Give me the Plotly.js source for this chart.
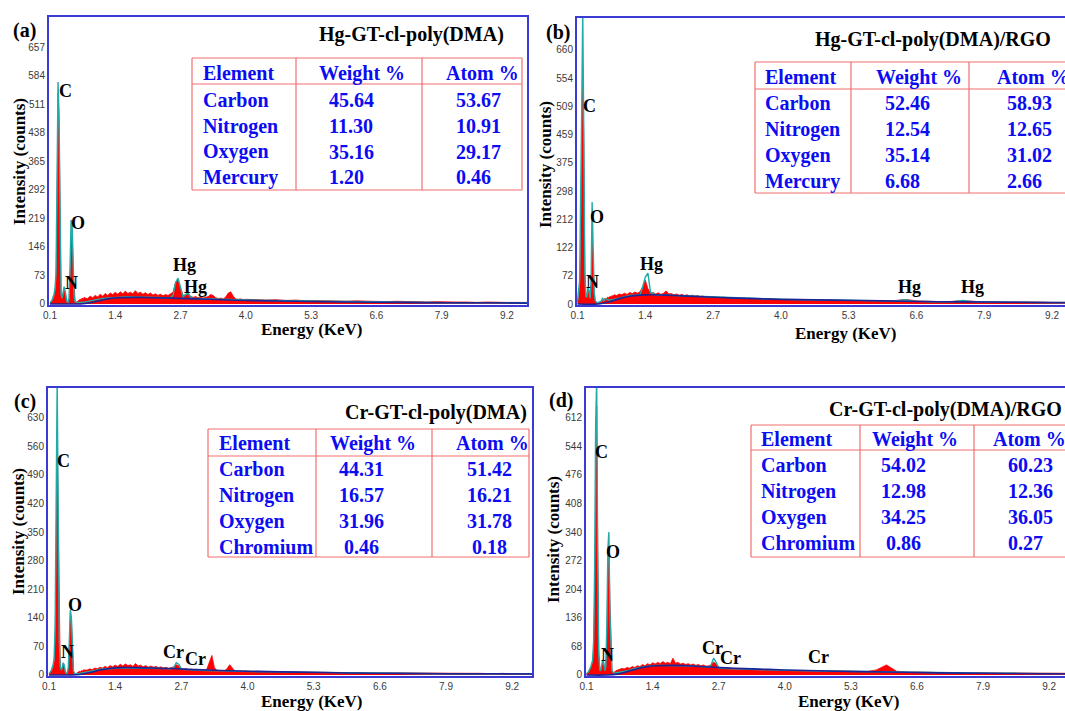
<!DOCTYPE html>
<html><head><meta charset="utf-8">
<script src="https://cdn.plot.ly/plotly-3.0.1.min.js"></script>
<style>html,body{margin:0;padding:0;overflow:hidden;background:#fff;width:1065px;height:711px}#chart{width:1100px;height:711px}</style>
</head><body><div id="chart"></div>
<script>
// ---------------- DATA ----------------
const energy = [
0.10,0.12,0.14,0.16,0.18,0.20,0.22,0.24,0.26,0.28,
0.30,0.32,0.34,0.36,0.38,0.40,0.42,0.44,0.46,0.48,
0.50,0.52,0.54,0.56,0.58,0.60,0.62,0.64,0.66,0.68,
0.70,0.72,0.74,0.76,0.78,0.80,
0.85,0.90,0.95,1.00,1.05,1.10,1.15,1.20,1.25,1.30,
1.35,1.40,1.45,1.50,1.55,1.60,1.65,1.70,1.75,1.80,
1.85,1.90,1.95,2.00,2.05,2.10,2.15,2.20,2.25,2.30,
2.35,2.40,2.45,2.50,2.55,2.60,2.65,2.70,2.75,2.80,
2.85,2.90,2.95,3.00,3.05,3.10,3.15,3.20,3.25,3.30,
3.35,3.40,3.45,3.50,3.55,3.60,3.65,3.70,3.75,3.80,
3.85,3.90,3.95,4.00,
4.2,4.4,4.6,4.8,5.0,5.2,5.4,5.6,5.8,6.0,
6.2,6.4,6.6,6.8,7.0,7.2,7.4,7.6,7.8,8.0,
8.2,8.4,8.6,8.8,9.0,9.2,9.4,9.6,9.8];

const aCounts = [
2,4,8,12,18,30,60,220,540,470,
150,30,12,20,35,28,10,4,3,8,
60,160,190,90,25,8,4,6,8,10,
12,11,15,13,17,15,
14,20,16,22,18,25,20,27,22,28,
24,30,25,31,26,33,27,30,26,34,
27,30,25,29,24,28,23,26,22,25,
21,24,22,26,30,55,62,40,22,24,
26,20,17,19,16,18,15,17,19,24,
22,16,14,15,13,18,28,31,20,13,
12,13,11,12,
11,10,11,9,10,8,9,8,8,7,
8,7,7,6,7,6,6,5,6,5,
5,5,4,5,4,4,4,4,4];

const bCounts = [
5,15,40,120,380,613,420,90,20,15,
35,30,12,30,166,120,30,8,4,3,
3,4,5,7,10,12,14,12,15,18,
16,20,18,22,20,24,
22,26,24,28,25,30,27,31,28,32,
45,62,40,28,30,26,29,25,28,34,
26,27,24,26,23,25,22,24,21,23,
20,22,19,21,18,20,17,19,17,18,
16,18,16,17,15,16,15,16,14,15,
14,15,13,14,13,14,12,13,12,13,
12,12,11,12,
11,11,10,10,9,9,9,8,8,8,
9,12,8,7,7,6,8,8,6,6,
5,5,5,5,5,4,4,4,4];

const cCounts = [
2,4,8,12,18,30,80,250,600,380,
100,25,10,15,28,22,8,4,4,12,
70,152,130,40,10,4,3,4,6,8,
9,8,11,10,13,12,
12,15,13,17,15,19,17,21,18,23,
20,24,21,26,22,27,23,25,21,28,
22,24,20,23,19,22,19,21,18,20,
17,19,16,18,20,25,22,15,14,15,
13,14,12,13,12,13,11,14,30,48,
18,11,10,11,10,16,25,18,10,9,
10,9,10,9,
9,8,8,7,7,7,6,6,6,5,
6,5,5,5,5,4,5,4,4,4,
4,4,4,3,4,3,3,3,3];

const dCounts = [
3,5,8,12,16,22,30,60,180,500,
640,300,60,15,10,18,30,25,10,15,
80,240,300,180,50,12,5,6,8,10,
12,11,14,13,16,15,
15,18,16,20,18,22,20,25,22,27,
24,29,26,30,27,32,28,30,27,40,
28,30,26,28,25,27,24,26,23,25,
22,24,21,22,24,31,26,18,17,18,
16,17,15,16,15,16,14,15,14,15,
13,14,13,13,12,13,12,12,11,12,
11,11,10,11,
10,10,9,9,10,9,8,8,12,24,
9,7,7,6,6,6,5,5,5,5,
5,4,4,4,4,4,4,4,4];

const fitEnergy = [
0.10,0.14,0.18,0.20,0.22,0.24,0.26,0.28,0.30,0.32,
0.34,0.36,0.38,0.40,0.42,0.44,0.46,0.48,0.50,0.52,
0.54,0.56,0.58,0.60,0.64,0.70,0.80,0.90,1.0,1.1,
1.2,1.3,1.35,1.40,1.45,1.50,1.6,1.7,1.8,2.0,
2.2,2.4,2.5,2.55,2.60,2.65,2.70,2.75,2.80,2.85,
2.90,2.95,3.0,3.2,3.4,3.6,3.8,4.0,4.5,5.0,
5.5,6.0,6.2,6.3,6.4,6.5,6.6,7.0,7.3,7.4,
7.5,7.6,7.7,8.0,8.5,9.0,9.8];

const aFit = [
3,10,25,40,80,260,568,480,140,25,
15,30,44,35,12,5,4,15,100,215,
205,80,20,6,4,4,5,8,11,13,
15,16,17,17,17,17,18,18,18,17,
17,16,16,22,55,66,40,18,24,28,
18,14,14,13,12,11,10,10,9,8,
7,6,6,6,6,5,5,4,4,4,
4,4,3,3,3,3,3];

const bFit = [
8,60,500,760,450,80,20,18,44,35,
15,60,265,150,30,8,4,3,4,6,
6,8,16,8,14,10,12,16,20,22,
23,24,45,70,80,30,24,24,23,22,
21,20,19,19,18,18,18,17,17,17,
16,16,16,15,14,13,12,12,11,10,
9,8,8,10,11,8,7,6,6,8,
9,7,6,5,4,4,3];

const cFit = [
3,10,25,40,120,400,720,420,90,20,
12,18,30,24,8,4,5,20,100,160,
140,40,10,4,3,4,6,8,11,14,
15,16,17,17,17,17,17,17,17,17,
16,16,15,18,30,26,15,13,13,13,
12,12,12,11,11,10,9,9,8,7,
6,5,5,5,5,4,4,4,3,3,
3,3,3,3,3,3,3];

const dFit = [
3,8,18,25,35,80,250,600,700,300,
50,12,10,25,36,30,10,20,120,300,
340,150,40,10,4,5,7,10,14,17,
19,21,22,22,23,23,23,23,23,22,
21,20,19,24,40,30,17,16,16,15,
15,15,15,14,13,12,12,11,10,9,
8,7,7,7,6,6,6,5,5,5,
4,4,4,4,4,3,3];

const bgEnergy = [0.1,0.5,0.7,0.9,1.1,1.3,1.5,1.8,2.1,2.5,3.0,3.5,4.0,5.0,6.0,7.0,8.0,9.0,9.8];
const aBg = [0,0,0,3,9,14,16,17,16,15,13,11,9,7,5,4,3,3,2];
const bBg = [0,0,5,14,20,23,24,23,21,19,16,14,12,10,8,6,5,4,4];
const cBg = [0,0,1,6,12,16,18,18,17,16,13,11,9,7,5,4,3,3,2];
const dBg = [0,0,2,8,15,20,22,23,22,19,16,14,12,9,7,5,4,3,3];

const xTicks = [0.1,1.4,2.7,4.0,5.3,6.6,7.9,9.2];
const xTickText = ['0.1','1.4','2.7','4.0','5.3','6.6','7.9','9.2'];
const aYTicks = [0,73,146,219,292,365,438,511,584,657];
const bYTickText = ['0','72','122','212','298','375','459','509','554','660'];
const cYTicks = [0,70,140,210,280,350,420,490,560,630];
const dYTicks = [0,68,136,204,272,340,408,476,544,612];

const hgElements = ['Carbon','Nitrogen','Oxygen','Mercury'];
const crElements = ['Carbon','Nitrogen','Oxygen','Chromium'];
const aWeight = [45.64,11.30,35.16,1.20];
const aAtom   = [53.67,10.91,29.17,0.46];
const bWeight = [52.46,12.54,35.14,6.68];
const bAtom   = [58.93,12.65,31.02,2.66];
const cWeight = [44.31,16.57,31.96,0.46];
const cAtom   = [51.42,16.21,31.78,0.18];
const dWeight = [54.02,12.98,34.25,0.86];
const dAtom   = [60.23,12.36,36.05,0.27];

const panelTitles = ['Hg-GT-cl-poly(DMA)','Hg-GT-cl-poly(DMA)/RGO','Cr-GT-cl-poly(DMA)','Cr-GT-cl-poly(DMA)/RGO'];
const panelLetters = ['(a)','(b)','(c)','(d)'];
const aPeaks = [['C',0.41,545],['O',0.66,207],['N',0.52,54],['Hg',2.77,100],['Hg',3.0,43]];
const bPeaks = [['C',0.33,514],['O',0.48,226],['N',0.39,57],['Hg',1.51,104],['Hg',6.46,44],['Hg',7.67,44]];
const cPeaks = [['C',0.375,524],['O',0.61,172],['N',0.47,56],['Cr',2.54,56],['Cr',2.97,39]];
const dPeaks = [['C',0.40,531],['O',0.63,293],['N',0.51,48],['Cr',2.57,64],['Cr',2.94,40],['Cr',4.66,43]];

// ---------------- LAYOUT / DRAW ----------------
const W = 1100, H = 711;
const px = v => v / W, py = v => 1 - v / H;
const SERIF = 'Liberation Serif, Times New Roman, serif';
const FRAME = '#3b3bd4', RED = '#ff0000', TEAL = '#22aaa8', NAVY = '#1b2596', TABLE = '#f26e6e', TXTBLUE = '#0c0cf2';

const bYTickVals = bYTickText.map((t, i) => i * 660 / 9);

const panels = [
  {red:aCounts, fit:aFit, bg:aBg, peaks:aPeaks, box:[49,527,17,305], xr:[0.08,9.6], yr:[-2.6,734],
   tv:aYTicks, tt:aYTicks.map(String), letter:[24,31], title:[411,35], ytitle:[19,162], xtitle:[312,329],
   els:hgElements, w:aWeight, at:aAtom,
   tab:{l:192,r:522,t:58,b:190,h:84,c1:296,c2:422, xe:201, xwh:317, xw:327, xwa:'left', xah:444, xa:454, xaa:'left', rows:[73,100,126,152,177]}},
  {red:bCounts, fit:bFit, bg:bBg, peaks:bPeaks, box:[577,1100,18,305], xr:[0.09,10.12], yr:[-2.6,743],
   tv:bYTickVals, tt:bYTickText, letter:[558,32], title:[933,39], ytitle:[545,165], xtitle:[846,333],
   els:hgElements, w:bWeight, at:bAtom,
   tab:{l:755,r:1100,t:62,b:193,h:89,c1:851,c2:969, xe:763, xwh:874, xw:883, xwa:'left', xah:995, xa:1005, xaa:'left', rows:[77,103,129,155,181]}},
  {red:cCounts, fit:cFit, bg:cBg, peaks:cPeaks, box:[48,532,388,676], xr:[0.08,9.59], yr:[-2.5,703],
   tv:cYTicks, tt:cYTicks.map(String), letter:[25,401], title:[436,412], ytitle:[18,532], xtitle:[312,701],
   els:crElements, w:cWeight, at:cAtom,
   tab:{l:208,r:529,t:429,b:557,h:456,c1:316,c2:432, xe:217, xwh:328, xw:361, xwa:'center', xah:454, xa:489, xaa:'center', rows:[443,469,495,521,547]}},
  {red:dCounts, fit:dFit, bg:dBg, peaks:dPeaks, box:[586,1100,388,676], xr:[0.09,10.2], yr:[-2.4,683],
   tv:dYTicks, tt:dYTicks.map(String), letter:[561,400], title:[945,409], ytitle:[553,540], xtitle:[849,701],
   els:crElements, w:dWeight, at:dAtom,
   tab:{l:751,r:1100,t:425,b:557,h:450,c1:860,c2:974, xe:759, xwh:870, xw:903, xwa:'center', xah:991, xa:1006, xaa:'left', rows:[439,465,491,517,543]}}
];

const traces = [], annotations = [], shapes = [];
const layout = {
  width: W, height: H, margin:{l:0,r:0,t:0,b:0}, showlegend:false,
  paper_bgcolor:'#fff', plot_bgcolor:'#fff'
};

panels.forEach((p, i) => {
  const n = i === 0 ? '' : String(i + 1);
  const xa = 'x' + n, ya = 'y' + n;
  const [l, r, t, b] = p.box;
  layout['xaxis' + n] = {
    domain:[px(l), px(r)], range:p.xr, anchor:ya, showline:true, mirror:true,
    linecolor:FRAME, linewidth:2, showgrid:false, zeroline:false, ticks:'',
    tickmode:'array', tickvals:xTicks, ticktext:xTickText,
    tickfont:{family:'Liberation Sans, Arial, sans-serif', size:10, color:'#3a3a3a'}
  };
  layout['yaxis' + n] = {
    domain:[py(b), py(t)], range:p.yr, anchor:xa, showline:true, mirror:true,
    linecolor:FRAME, linewidth:2, showgrid:false, zeroline:false, ticks:'',
    tickmode:'array', tickvals:p.tv, ticktext:p.tt,
    tickfont:{family:'Liberation Sans, Arial, sans-serif', size:10, color:'#3a3a3a'}
  };
  traces.push({x:energy, y:p.red, xaxis:xa, yaxis:ya, type:'scatter', mode:'lines',
    fill:'tozeroy', fillcolor:RED, line:{color:RED, width:0.8}, hoverinfo:'skip'});
  traces.push({x:fitEnergy, y:p.fit, xaxis:xa, yaxis:ya, type:'scatter', mode:'lines',
    line:{color:TEAL, width:1.4}, hoverinfo:'skip'});
  traces.push({x:bgEnergy, y:p.bg, xaxis:xa, yaxis:ya, type:'scatter', mode:'lines',
    line:{color:NAVY, width:1.6, shape:'spline'}, hoverinfo:'skip'});

  // peak labels
  p.peaks.forEach(pk => annotations.push({xref:xa, yref:ya, x:pk[1], y:pk[2], text:'<b>'+pk[0]+'</b>',
    showarrow:false, xanchor:'center', yanchor:'middle', font:{family:SERIF, size:18, color:'#000'}}));

  const pap = (x, y, txt, size, anchor, extra) => annotations.push(Object.assign({
    xref:'paper', yref:'paper', x:px(x), y:py(y), text:txt, showarrow:false,
    xanchor:anchor || 'center', yanchor:'middle', font:{family:SERIF, size:size, color:'#000'}}, extra || {}));

  pap(p.letter[0], p.letter[1], '<b>'+panelLetters[i]+'</b>', 20);
  pap(p.title[0], p.title[1], '<b>'+panelTitles[i]+'</b>', 20);
  pap(p.ytitle[0], p.ytitle[1], '<b>Intensity (counts)</b>', 17, 'center', {textangle:-90});
  pap(p.xtitle[0], p.xtitle[1], '<b>Energy (KeV)</b>', 17);

  // table
  const tb = p.tab;
  const ln = (x0, y0, x1, y1) => shapes.push({type:'line', xref:'paper', yref:'paper',
    x0:px(x0), y0:py(y0), x1:px(x1), y1:py(y1), line:{color:TABLE, width:1.2}});
  ln(tb.l, tb.t, tb.r, tb.t); ln(tb.l, tb.b, tb.r, tb.b); ln(tb.l, tb.h, tb.r, tb.h);
  ln(tb.l, tb.t, tb.l, tb.b); ln(tb.r, tb.t, tb.r, tb.b);
  ln(tb.c1, tb.t, tb.c1, tb.b); ln(tb.c2, tb.t, tb.c2, tb.b);
  const tf = {family:SERIF, size:20, color:TXTBLUE};
  const tx = (x, y, txt, anchor) => annotations.push({xref:'paper', yref:'paper', x:px(x), y:py(y),
    text:'<b>'+txt+'</b>', showarrow:false, xanchor:anchor, yanchor:'middle', font:tf});
  tx(tb.xe, tb.rows[0], 'Element', 'left');
  tx(tb.xwh, tb.rows[0], 'Weight %', 'left');
  tx(tb.xah, tb.rows[0], 'Atom %', 'left');
  p.els.forEach((el, k) => {
    const y = tb.rows[k + 1];
    tx(tb.xe, y, el, 'left');
    tx(tb.xw, y, p.w[k].toFixed(2), tb.xwa);
    tx(tb.xa, y, p.at[k].toFixed(2), tb.xaa);
  });
});

layout.annotations = annotations;
layout.shapes = shapes;
Plotly.newPlot('chart', traces, layout, {displayModeBar:false, staticPlot:true});
</script>
</body></html>
